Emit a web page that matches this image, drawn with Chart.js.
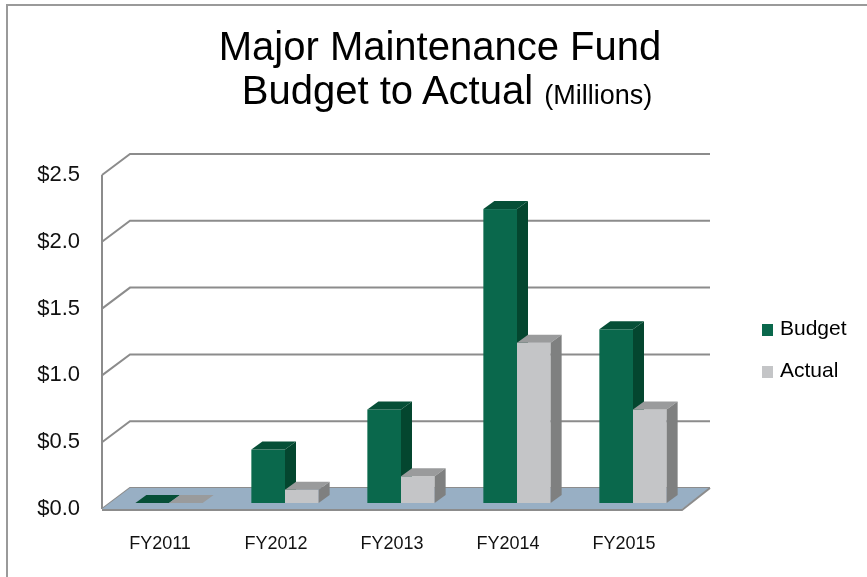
<!DOCTYPE html>
<html>
<head>
<meta charset="utf-8">
<script src="https://cdn.jsdelivr.net/npm/chart.js@4.4.1/dist/chart.umd.min.js"></script>
<style>
    body { margin: 0; background: #fff; }
    #wrap { position: relative; width: 867px; height: 577px; overflow: hidden; font-family: "Liberation Sans", Arial, sans-serif; color: #000; }
    #frame { position: absolute; left: 6px; top: 4px; width: 900px; height: 600px; border-left: 2px solid #9a9a9a; border-top: 2px solid #9a9a9a; }
    .titleLine { position: absolute; width: 880px; text-align: center; font-size: 40px; line-height: 44px; white-space: nowrap; }
    .titleLine small { font-size: 27px; }
    #legend { position: absolute; left: 762px; top: 316px; }
    .legItem { height: 42px; font-size: 21px; line-height: 24px; white-space: nowrap; }
    .legBox { display: inline-block; width: 11px; height: 12px; margin-right: 7px; vertical-align: -1px; }
    #chartBox { position: absolute; left: 0; top: 0; width: 867px; height: 577px; }
</style>
</head>
<body>
<div id="wrap">
    <div id="frame"></div>
    <div id="chartBox"><canvas id="myChart"></canvas></div>
    <div class="titleLine" style="left:0; top:24px">Major Maintenance Fund</div>
    <div class="titleLine" style="left:7px; top:68px">Budget to Actual <small>(Millions)</small></div>
    <div id="legend"></div>
</div>
<script>
const years = ['FY2011', 'FY2012', 'FY2013', 'FY2014', 'FY2015'];
const budget = [0, 0.4, 0.7, 2.2, 1.3];
const actual = [0, 0.1, 0.2, 1.2, 0.7];
const yTicks = [0, 0.5, 1.0, 1.5, 2.0, 2.5];

// front / top / side shades for the fake 3d bars
const shades = [
    { front: '#0a684c', top: '#064f37', side: '#04462f' },
    { front: '#c4c5c7', top: '#9a9b9c', side: '#7f8080' }
];

const wallDx = 28, wallDy = -21;   // depth of the walls
const barDx = 9, barDy = -6;       // bars stand a bit back from the front edge
const capDx = 11, capDy = -8;      // depth of each bar

const walls3d = {
    id: 'walls3d',
    beforeDatasetsDraw(chart) {
        const ctx = chart.ctx;
        const { left, right, bottom } = chart.chartArea;
        const y = chart.scales.y;

        ctx.save();
        ctx.strokeStyle = '#8c8c8c';
        ctx.lineWidth = 2;
        yTicks.forEach(v => {
            const py = y.getPixelForValue(v);
            ctx.beginPath();
            ctx.moveTo(left, py);
            ctx.lineTo(left + wallDx, py + wallDy);
            ctx.lineTo(right + wallDx, py + wallDy);
            ctx.stroke();
        });
        ctx.beginPath();
        ctx.moveTo(left, y.getPixelForValue(0));
        ctx.lineTo(left, y.getPixelForValue(yTicks[yTicks.length - 1]));
        ctx.stroke();

        // floor
        ctx.beginPath();
        ctx.moveTo(left, bottom);
        ctx.lineTo(left + wallDx, bottom + wallDy);
        ctx.lineTo(right + wallDx, bottom + wallDy);
        ctx.lineTo(right, bottom);
        ctx.closePath();
        ctx.fillStyle = '#98afc4';
        ctx.fill();
        ctx.beginPath();
        ctx.moveTo(left, bottom + 1);
        ctx.lineTo(right, bottom + 1);
        ctx.lineTo(right + wallDx, bottom + wallDy);
        ctx.stroke();

        // bars, category by category so the later bar hides the side of the earlier one
        const metas = chart.data.datasets.map((d, i) => chart.getDatasetMeta(i));
        years.forEach((yr, i) => {
            metas.forEach((meta, d) => {
                const el = meta.data[i];
                const p = el.getProps(['x', 'y', 'base', 'width'], true);
                const l = p.x - p.width / 2 + barDx;
                const r = p.x + p.width / 2 + barDx;
                const t = p.y + barDy;
                const b = p.base + barDy;
                const c = shades[d];

                ctx.fillStyle = c.front;
                ctx.fillRect(l, t, r - l, b - t);

                ctx.fillStyle = c.top;
                ctx.beginPath();
                ctx.moveTo(l, t);
                ctx.lineTo(l + capDx, t + capDy);
                ctx.lineTo(r + capDx, t + capDy);
                ctx.lineTo(r, t);
                ctx.closePath();
                ctx.fill();

                ctx.fillStyle = c.side;
                ctx.beginPath();
                ctx.moveTo(r, t);
                ctx.lineTo(r + capDx, t + capDy);
                ctx.lineTo(r + capDx, b + capDy);
                ctx.lineTo(r, b);
                ctx.closePath();
                ctx.fill();
            });
        });
        ctx.restore();
        return false;
    }
};

const chart = new Chart(document.getElementById('myChart'), {
    type: 'bar',
    data: {
        labels: years,
        datasets: [
            { label: 'Budget', data: budget, backgroundColor: shades[0].front },
            { label: 'Actual', data: actual, backgroundColor: shades[1].front }
        ]
    },
    options: {
        responsive: true,
        maintainAspectRatio: false,
        animation: false,
        layout: { padding: { left: 6, right: 185, top: 175, bottom: 8 } },
        datasets: { bar: { categoryPercentage: 0.58, barPercentage: 1 } },
        plugins: { legend: { display: false }, tooltip: { enabled: false } },
        scales: {
            x: {
                grid: { display: false },
                border: { display: false },
                ticks: { padding: 16, color: '#111', font: { family: 'Liberation Sans', size: 18 } },
                afterFit: s => { s.height = 60; }
            },
            y: {
                min: 0, max: 2.5,
                afterBuildTicks: s => { s.ticks = yTicks.map(v => ({ value: v })); },
                grid: { display: false, drawTicks: false },
                border: { display: false },
                ticks: {
                    padding: 22, color: '#111', font: { family: 'Liberation Sans', size: 22 },
                    callback: v => '$' + v.toFixed(1)
                },
                afterFit: s => { s.width = 96; }
            }
        }
    },
    plugins: [walls3d]
});

document.getElementById('legend').innerHTML = chart.data.datasets
    .map(ds => `<div class="legItem"><span class="legBox" style="background:${ds.backgroundColor}"></span>${ds.label}</div>`)
    .join('');
</script>
</body>
</html>
